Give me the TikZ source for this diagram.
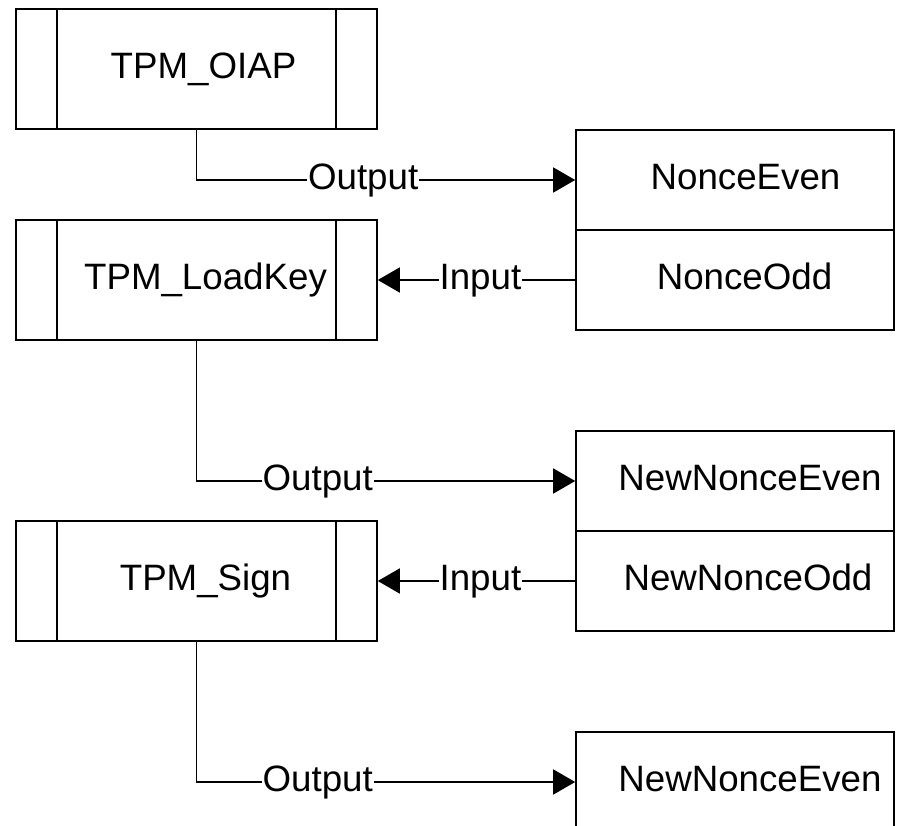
\documentclass[tikz,border=0pt]{standalone}
\usepackage{fontspec}
\setmainfont{Liberation Sans}
\usetikzlibrary{arrows.meta}
\newcommand\diagfont{\fontsize{36.7pt}{44pt}\selectfont}

\tikzset{
  procbox/.style={draw, line width=1.6pt, minimum width=361pt, minimum height=120pt, inner sep=0pt,
    path picture={
      \draw[line width=1.6pt] ([xshift=41pt]path picture bounding box.north west) -- ([xshift=41pt]path picture bounding box.south west);
      \draw[line width=1.6pt] ([xshift=-41pt]path picture bounding box.north east) -- ([xshift=-41pt]path picture bounding box.south east);
    }},
  databox/.style={draw, line width=1.6pt, minimum width=318pt, minimum height=100pt, inner sep=0pt},
  boxtext/.style={font=\diagfont, inner sep=0pt, text height=26pt, text depth=7pt},
  flowlabel/.style={boxtext, fill=white, inner xsep=1pt},
  flowarrow/.style={line width=1.6pt, -{Triangle[length=22pt, width=25pt]}},
}

\begin{document}
\begin{tikzpicture}[x=1pt, y=-1pt]
\clip (0,0) rectangle (897,826);
\fill[white] (0,0) rectangle (897,826);

% commands
\node [procbox, label={[boxtext,xshift=7pt]center:TPM\_OIAP}] (oiap) at (196.5,69) {};
\node [procbox, label={[boxtext,xshift=9pt]center:TPM\_LoadKey}] (loadkey) at (196.5,280) {};
\node [procbox, label={[boxtext,xshift=9pt]center:TPM\_Sign}] (sign) at (196.5,581) {};

% nonces
\node [databox, label={[boxtext,xshift=10.5pt]center:NonceEven}] (even1) at (735,180) {};
\node [databox, label={[boxtext,xshift=9.5pt]center:NonceOdd}] (odd1) at (735,280) {};
\node [databox, label={[boxtext,xshift=15pt]center:NewNonceEven}] (even2) at (735,481) {};
\node [databox, label={[boxtext,xshift=13pt]center:NewNonceOdd}] (odd2) at (735,581) {};
\node [databox, label={[boxtext,xshift=15pt]center:NewNonceEven}] (even3) at (735,782) {};

% flows
\draw [flowarrow] (oiap.south) |- node [flowlabel, pos=0.72] {Output} (even1.west);
\draw [flowarrow] (odd1.west) -- node [flowlabel, pos=0.48] {Input} (loadkey.east);
\draw [flowarrow] (loadkey.south) |- node [flowlabel, pos=0.66] {Output} (even2.west);
\draw [flowarrow] (odd2.west) -- node [flowlabel, pos=0.48] {Input} (sign.east);
\draw [flowarrow] (sign.south) |- node [flowlabel, pos=0.66] {Output} (even3.west);
\end{tikzpicture}
\end{document}
